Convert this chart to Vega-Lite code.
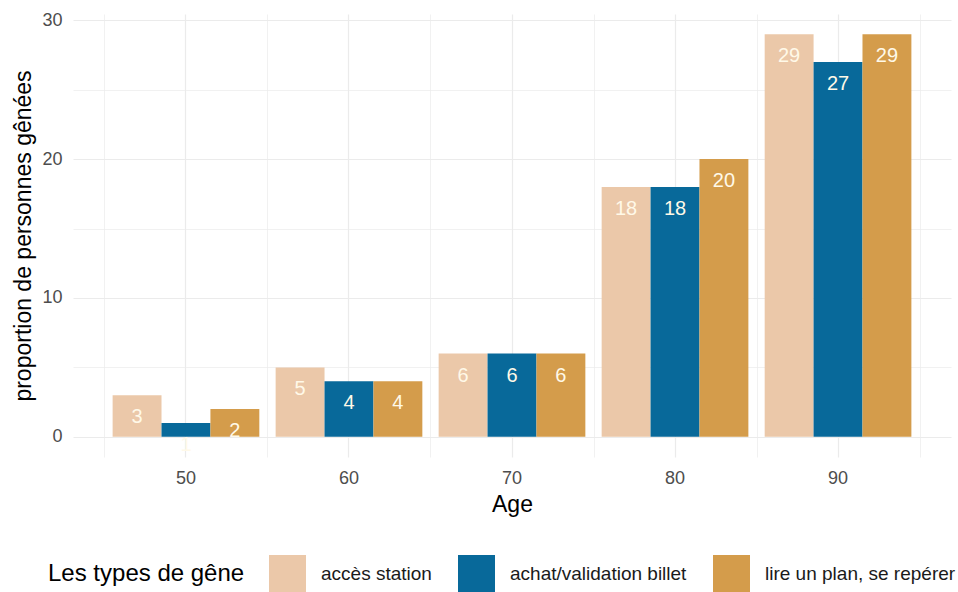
{
  "$schema": "https://vega.github.io/schema/vega-lite/v6.json",
  "width": 878,
  "height": 443,
  "autosize": {"type": "none"},
  "padding": {"left": 73, "top": 14, "right": 7, "bottom": 135},
  "background": "white",
  "config": {"view": {"stroke": null}, "font": "Liberation Sans"},
  "data": {
    "values": [
      {"age": 50, "type": "accès station", "value": 3},
      {"age": 50, "type": "achat/validation billet", "value": 1},
      {"age": 50, "type": "lire un plan, se repérer", "value": 2},
      {"age": 60, "type": "accès station", "value": 5},
      {"age": 60, "type": "achat/validation billet", "value": 4},
      {"age": 60, "type": "lire un plan, se repérer", "value": 4},
      {"age": 70, "type": "accès station", "value": 6},
      {"age": 70, "type": "achat/validation billet", "value": 6},
      {"age": 70, "type": "lire un plan, se repérer", "value": 6},
      {"age": 80, "type": "accès station", "value": 18},
      {"age": 80, "type": "achat/validation billet", "value": 18},
      {"age": 80, "type": "lire un plan, se repérer", "value": 20},
      {"age": 90, "type": "accès station", "value": 29},
      {"age": 90, "type": "achat/validation billet", "value": 27},
      {"age": 90, "type": "lire un plan, se repérer", "value": 29}
    ]
  },
  "encoding": {
    "xOffset": {
      "field": "type",
      "type": "nominal",
      "scale": {"paddingInner": 0, "paddingOuter": 0.1667}
    },
    "y": {
      "field": "value",
      "type": "quantitative",
      "scale": {"domain": [-1.45, 30.45], "nice": false, "zero": false},
      "axis": {
        "values": [0, 5, 10, 15, 20, 25, 30],
        "labelExpr": "datum.value % 10 == 0 ? datum.label : ''",
        "ticks": false,
        "domain": false,
        "grid": true,
        "gridColor": "#EBEBEB",
        "gridWidth": {"condition": {"test": "datum.value % 10 == 0", "value": 1.2}, "value": 0.7},
        "labelColor": "#4D4D4D",
        "labelFontSize": 18,
        "labelPadding": 11,
        "title": "proportion de personnes gênées",
        "titleFontSize": 23,
        "titleFontWeight": "normal",
        "titleColor": "#000000",
        "titlePadding": 6
      }
    }
  },
  "layer": [
    {
      "mark": {"type": "bar"},
      "encoding": {
        "x": {
          "field": "age",
          "type": "ordinal",
          "scale": {"paddingInner": 0, "paddingOuter": 0.193},
          "axis": {
            "labelAngle": 0,
            "ticks": false,
            "domain": false,
            "grid": true,
            "gridColor": "#EBEBEB",
            "gridWidth": 1.2,
            "labelColor": "#4D4D4D",
            "labelFontSize": 18,
            "labelPadding": 12,
            "title": "Age",
            "titleFontSize": 23,
            "titleFontWeight": "normal",
            "titleColor": "#000000",
            "titlePadding": 6
          }
        },
        "y2": {"datum": 0},
        "color": {
          "field": "type",
          "type": "nominal",
          "scale": {
            "domain": ["accès station", "achat/validation billet", "lire un plan, se repérer"],
            "range": ["#EBC8A9", "#08699A", "#D49C4B"]
          },
          "legend": {
            "orient": "none",
            "legendX": -25,
            "legendY": 541,
            "direction": "horizontal",
            "columns": 3,
            "title": "Les types de gêne",
            "titleOrient": "left",
            "titleFontSize": 24,
            "titleFontWeight": "normal",
            "titleColor": "#000000",
            "titlePadding": 24,
            "titleBaseline": "middle",
            "titleLimit": 0,
            "labelLimit": 0,
            "labelFontSize": 19,
            "labelColor": "#1A1A1A",
            "labelOffset": 15,
            "columnPadding": 26,
            "symbolType": "square",
            "symbolSize": 1369,
            "symbolStrokeWidth": 0,
            "symbolOpacity": 1
          }
        }
      }
    },
    {
      "mark": {"type": "text", "baseline": "middle", "dy": 22, "fontSize": 20, "color": "#FFF9E8"},
      "encoding": {
        "x": {
          "field": "age",
          "type": "ordinal",
          "axis": {
            "tickBand": "extent",
            "labels": false,
            "ticks": false,
            "domain": false,
            "grid": true,
            "gridColor": "#EBEBEB",
            "gridWidth": 0.7,
            "title": null
          }
        },
        "text": {"field": "value", "type": "quantitative"}
      }
    }
  ],
  "resolve": {"axis": {"x": "independent"}}
}
